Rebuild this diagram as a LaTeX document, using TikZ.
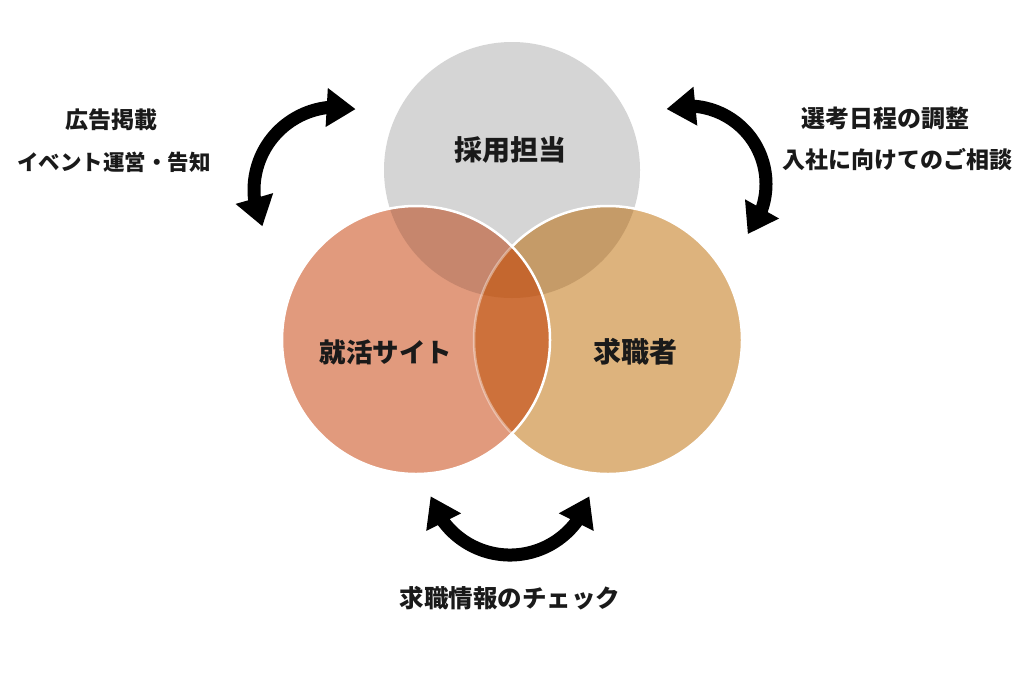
\documentclass[tikz,border=0pt]{standalone}
\usepackage{fontspec}
\newfontfamily\jp{Noto Sans CJK JP}
\usetikzlibrary{arrows.meta,bending}
\definecolor{grayc}{HTML}{D5D5D5}
\definecolor{salmonc}{HTML}{E19A7D}
\definecolor{tanc}{HTML}{DDB37D}
\definecolor{grayLc}{HTML}{C6866D}
\definecolor{grayRc}{HTML}{C59B68}
\definecolor{lensc}{HTML}{CD713B}
\definecolor{triplec}{HTML}{C4672F}
\definecolor{textc}{HTML}{1A1A1A}
\tikzset{
  rim/.style={draw=white, line width=2.5pt},
  arr/.style={line width=13pt, draw=black,
    arrows={Triangle[length=29pt,width=37pt,flex]-Triangle[length=29pt,width=37pt,flex]}},
  side/.style={font=\jp\bfseries\fontsize{23}{27}\selectfont, text=textc, inner sep=0pt},
  big/.style={font=\jp\bfseries\fontsize{28}{32}\selectfont, text=textc, inner sep=0pt}
}
\begin{document}
\begin{tikzpicture}[x=1pt,y=-1pt]
\useasboundingbox (0,0) rectangle (1024,683);
\fill[white] (0,0) rectangle (1024,683);
\coordinate (cT) at (512,170);
\coordinate (cL) at (416,340);
\coordinate (cR) at (608,340);
% top and right circles
\fill[grayc] (cT) circle[radius=128];
\fill[tanc] (cR) circle[radius=134];
\begin{scope}
  \clip (cT) circle[radius=128];
  \fill[grayRc] (cR) circle[radius=134];
\end{scope}
\draw[rim] (cR) circle[radius=134];
% left circle regions
\fill[salmonc] (cL) circle[radius=134];
\begin{scope}
  \clip (cL) circle[radius=134];
  \begin{scope}
    \clip (cT) circle[radius=128];
    \fill[grayLc] (cL) circle[radius=134];
  \end{scope}
  \begin{scope}
    \clip (cR) circle[radius=134];
    \fill[lensc] (cL) circle[radius=134];
    \clip (cT) circle[radius=128];
    \fill[triplec] (cL) circle[radius=134];
  \end{scope}
  \draw[rim, draw opacity=0.4] (cR) circle[radius=134];
\end{scope}
\draw[rim] (cL) circle[radius=134];
% labels in circles
\node[big] (tT) at (510,150) {採用担当};
\node[big, font=\jp\bfseries\fontsize{26.5}{30}\selectfont] (tL) at (386,352) {就活サイト};
\node[big] (tR) at (635,352) {求職者};
% arrows
\coordinate (aL) at (337,190);
\coordinate (aR) at (688,184);
\coordinate (aB) at (510,472);
\draw[arr] ([shift={(-77:83)}]aL) arc[start angle=-77, end angle=-206, radius=83];
\draw[arr] ([shift={(-106:78)}]aR) arc[start angle=-106, end angle=40, radius=78];
\draw[arr] ([shift={(163:83)}]aB) arc[start angle=163, end angle=17, radius=83];
% side labels
\node[side] (l1) at (111,120) {広告掲載};
\node[side, font=\jp\bfseries\fontsize{21.5}{26}\selectfont] (l2) at (114,162) {イベント運営・告知};
\node[side, font=\jp\bfseries\fontsize{24}{28}\selectfont] (r1) at (885,118) {選考日程の調整};
\node[side] (r2) at (897,160) {入社に向けてのご相談};
\node[side, font=\jp\bfseries\fontsize{24.5}{28}\selectfont] (b1) at (510,598) {求職情報のチェック};
\end{tikzpicture}
\end{document}
